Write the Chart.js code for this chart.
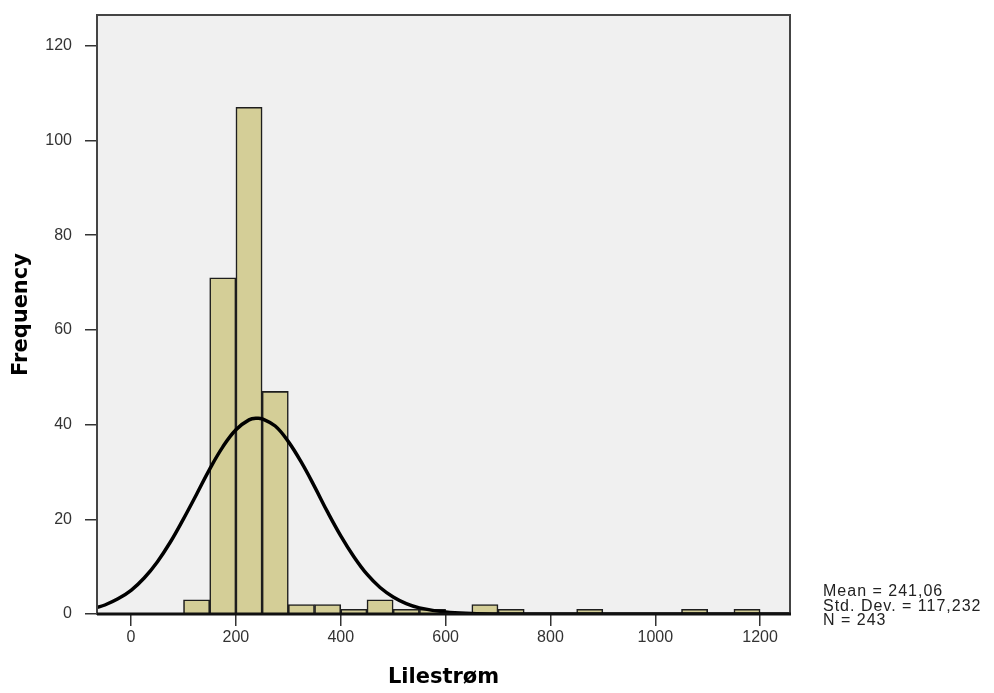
<!DOCTYPE html>
<html>
<head>
<meta charset="utf-8">
<title>Lilestrøm</title>
<script src="https://cdn.jsdelivr.net/npm/chart.js@4.4.1/dist/chart.umd.min.js"></script>
<style>
  html, body { margin: 0; padding: 0; background: #fff; }
  #wrap { width: 994px; height: 693px; }
</style>
</head>
<body>
<div id="wrap"><canvas id="hist"></canvas></div>
<script>
// histogram bins (width 50) and their frequencies
const binStart = [100, 150, 200, 250, 300, 350, 400, 450, 500, 550, 650, 700, 850, 1050, 1150];
const counts   = [3, 71, 107, 47, 2, 2, 1, 3, 1, 1, 2, 1, 1, 1, 1];
const binWidth = 50;

// fitted normal curve, read along x
const curveX = [-65, -50, -25, 0, 25, 50, 75, 100, 125, 150, 175, 200, 225, 241, 250, 275, 300, 325, 350, 375, 400, 425, 450, 475, 500, 525, 550, 600, 650, 700, 800, 1000, 1260];
const curveY = [1.4, 1.9, 3.2, 5.0, 7.6, 11.0, 15.2, 20.1, 25.3, 30.6, 35.3, 38.9, 41.0, 41.35, 41.2, 39.7, 36.4, 32.0, 26.9, 21.5, 16.5, 12.1, 8.4, 5.6, 3.6, 2.2, 1.3, 0.4, 0.1, 0.02, 0, 0, 0];

const xTicks = [0, 200, 400, 600, 800, 1000, 1200];
const yTicks = [0, 20, 40, 60, 80, 100, 120];
const statsText = ["Mean = 241,06", "Std. Dev. = 117,232", "N = 243"];

const barData = binStart.map((s, i) => ({ x: s + binWidth / 2, y: counts[i] }));
const curveData = curveX.map((x, i) => ({ x: x, y: curveY[i] }));

const tickFont = { size: 16, family: "'Liberation Sans', Arial, sans-serif" };
const titleFont = { size: 21, weight: "bold", family: "'DejaVu Sans', Verdana, sans-serif" };

// grey plot box with a dark frame, plus the stats block to the right
const framePlugin = {
  id: "frame",
  beforeDatasetsDraw(chart) {
    const { ctx, chartArea: a } = chart;
    ctx.save();
    ctx.fillStyle = "#f0f0f0";
    ctx.fillRect(a.left, a.top, a.right - a.left, a.bottom - a.top);
    ctx.restore();
  },
  afterDraw(chart) {
    const { ctx, chartArea: a } = chart;
    ctx.save();
    ctx.strokeStyle = "#444";
    ctx.lineWidth = 2;
    ctx.strokeRect(a.left, a.top, a.right - a.left, a.bottom - a.top);
    ctx.strokeStyle = "#111";
    ctx.lineWidth = 3;
    ctx.beginPath();
    ctx.moveTo(a.left, a.bottom);
    ctx.lineTo(a.right + 1, a.bottom);
    ctx.stroke();

    ctx.fillStyle = "#222";
    ctx.font = "16px 'Liberation Sans', Arial, sans-serif";
    ctx.letterSpacing = "1px";
    ctx.textBaseline = "middle";
    statsText.forEach((t, i) => ctx.fillText(t, a.right + 33, 592 + i * 14.5));
    ctx.restore();
  }
};

new Chart(document.getElementById("hist"), {
  data: {
    datasets: [
      {
        type: "line",
        data: curveData,
        borderColor: "#000",
        borderWidth: 3.5,
        pointRadius: 0,
        tension: 0.4,
        fill: false,
        order: 0
      },
      {
        type: "bar",
        data: barData,
        backgroundColor: "#d4ce97",
        borderColor: "#1e1e1e",
        borderWidth: 1.6,
        barPercentage: 1,
        categoryPercentage: 1,
        order: 1
      }
    ]
  },
  options: {
    responsive: true,
    maintainAspectRatio: false,
    animation: false,
    layout: { padding: { top: 15, right: 204, left: 0, bottom: 0 } },
    plugins: { legend: { display: false }, tooltip: { enabled: false } },
    scales: {
      x: {
        type: "linear",
        offset: false,
        min: -65,
        max: 1257,
        afterBuildTicks: s => { s.ticks = xTicks.map(v => ({ value: v })); },
        afterFit: s => { s.height = 79; s.paddingLeft = 0; s.paddingRight = 0; },
        grid: { offset: false, drawOnChartArea: false, drawTicks: true, tickLength: 12, color: "#333", lineWidth: 1.5 },
        border: { display: false },
        ticks: { color: "#333", padding: 2, font: tickFont, callback: v => String(v) },
        title: {
          display: true,
          text: "Lilestrøm",
          color: "#000",
          padding: { top: 0, bottom: 3 },
          font: titleFont
        }
      },
      y: {
        type: "linear",
        min: 0,
        max: 126.5,
        afterBuildTicks: s => { s.ticks = yTicks.map(v => ({ value: v })); },
        afterFit: s => { s.width = 97; s.paddingTop = 0; s.paddingBottom = 0; },
        grid: { drawOnChartArea: false, drawTicks: true, tickLength: 12, color: "#333", lineWidth: 1.5 },
        border: { display: false },
        ticks: { color: "#333", padding: 13, font: tickFont, callback: v => String(v) },
        title: {
          display: true,
          text: "Frequency",
          color: "#000",
          padding: { top: 9, bottom: 0 },
          font: titleFont
        }
      }
    }
  },
  plugins: [framePlugin]
});
</script>
</body>
</html>
